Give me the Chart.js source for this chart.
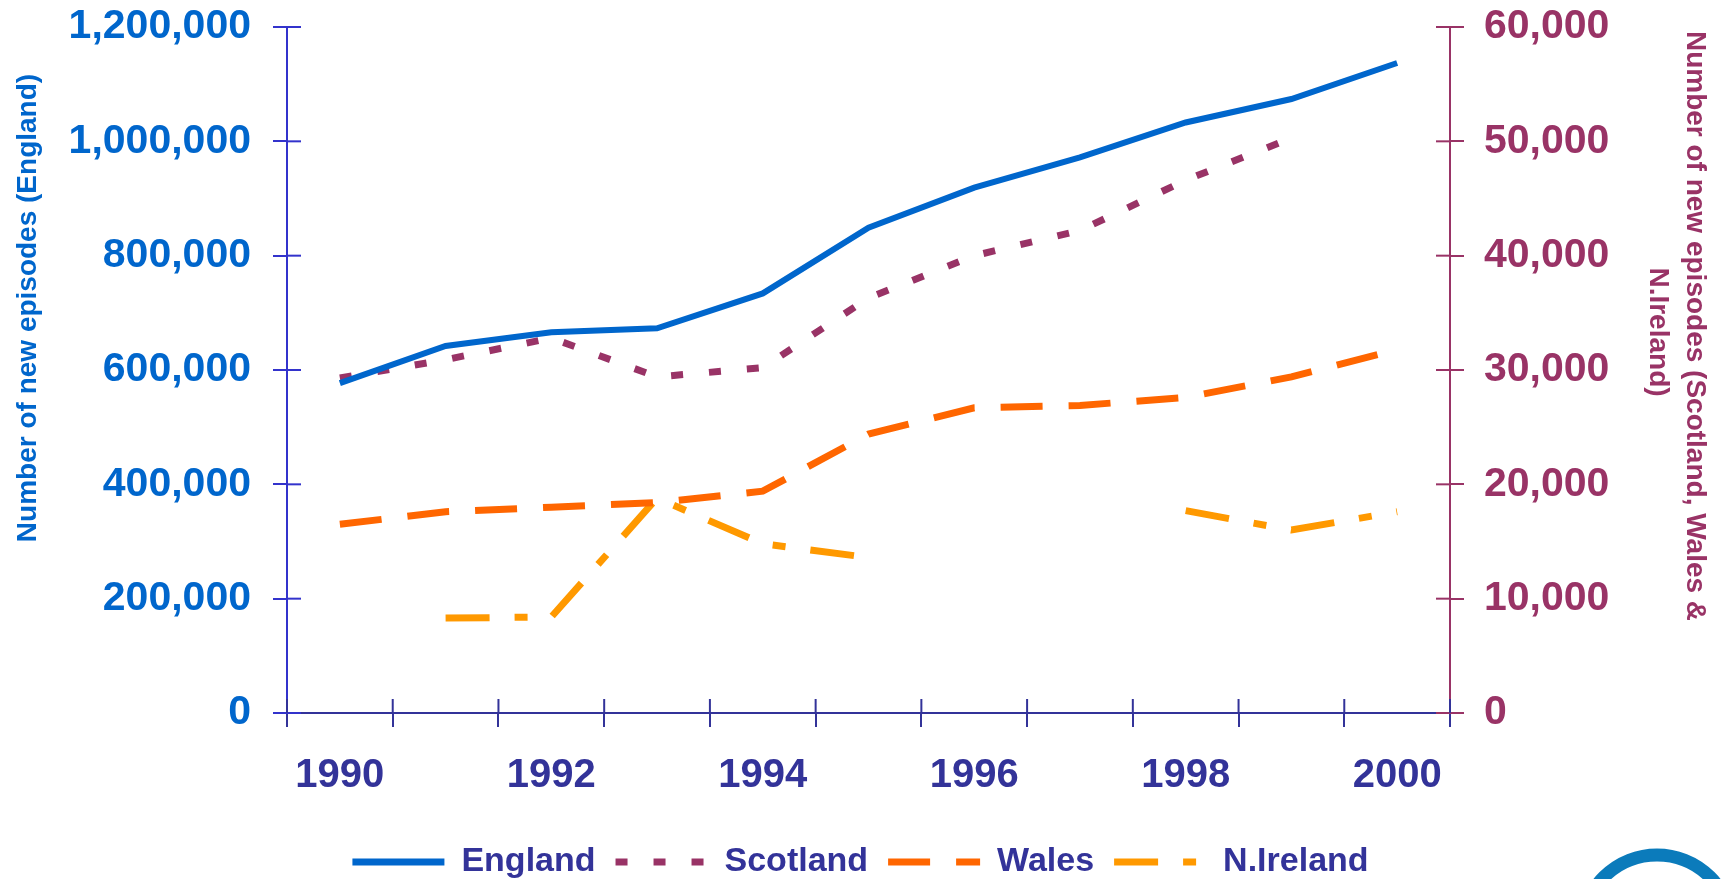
<!DOCTYPE html>
<html>
<head>
<meta charset="utf-8">
<script src="https://cdn.jsdelivr.net/npm/chart.js@4/dist/chart.umd.min.js"></script>
<style>
  html, body { margin: 0; padding: 0; background: #fff; }
  canvas { display: block; }
</style>
</head>
<body>
<canvas id="chart" width="1721" height="879"></canvas>
<script>
const years = ['1990', '1991', '1992', '1993', '1994', '1995', '1996', '1997', '1998', '1999', '2000'];
const england = [577000, 642000, 666000, 673000, 734000, 849000, 919000, 972000, 1033000, 1074000, 1137000];
const scotland = [29300, 30900, 32800, 29400, 30200, 36300, 40000, 42200, 46600, 50300, null];
const wales = [16500, 17600, 18000, 18400, 19400, 24400, 26700, 26900, 27600, 29400, 31800];
const nIreland = [null, 8300, 8400, 18800, 14800, 13600, null, null, 17700, 16000, 17600];

const leftTitle = 'Number of new episodes (England)';
const rightTitle = ['Number of new episodes (Scotland, Wales &', 'N.Ireland)'];

const FONT = "'Liberation Sans', Arial, sans-serif";
const NAVY = '#333399';
const BLUE = '#0066CC';
const MAROON = '#993366';

// tick marks that cross the axis (chart.js only draws the outer half)
const innerTicks = {
  id: 'innerTicks',
  beforeDatasetsDraw(chart) {
    const ctx = chart.ctx;
    const area = chart.chartArea;
    const len = 14;
    ctx.save();
    ctx.lineWidth = 2;

    const yl = chart.scales.y;
    ctx.strokeStyle = '#3333CC';
    yl.ticks.forEach(t => {
      const y = yl.getPixelForValue(t.value);
      ctx.beginPath(); ctx.moveTo(area.left, y); ctx.lineTo(area.left + len, y); ctx.stroke();
    });

    const yr = chart.scales.y2;
    ctx.strokeStyle = MAROON;
    yr.ticks.forEach(t => {
      const y = yr.getPixelForValue(t.value);
      ctx.beginPath(); ctx.moveTo(area.right - len, y); ctx.lineTo(area.right, y); ctx.stroke();
    });

    const xs = chart.scales.x;
    const step = xs.getPixelForValue(1) - xs.getPixelForValue(0);
    ctx.strokeStyle = NAVY;
    for (let i = 0; i <= years.length; i++) {
      const x = xs.getPixelForValue(i) - step / 2;
      ctx.beginPath(); ctx.moveTo(x, area.bottom - len); ctx.lineTo(x, area.bottom); ctx.stroke();
    }
    ctx.restore();
  }
};

const axisTitles = {
  id: 'axisTitles',
  afterDraw(chart) {
    const ctx = chart.ctx;
    ctx.save();
    ctx.font = 'bold 28px ' + FONT;
    ctx.textAlign = 'center';
    ctx.textBaseline = 'middle';

    ctx.fillStyle = BLUE;
    ctx.save();
    ctx.translate(28, 308);
    ctx.rotate(-Math.PI / 2);
    ctx.fillText(leftTitle, 0, 0);
    ctx.restore();

    ctx.fillStyle = MAROON;
    ctx.save();
    ctx.translate(1695, 326);
    ctx.rotate(Math.PI / 2);
    ctx.fillText(rightTitle[0], 0, 0);
    ctx.restore();
    ctx.save();
    ctx.translate(1658, 332);
    ctx.rotate(Math.PI / 2);
    ctx.fillText(rightTitle[1], 0, 0);
    ctx.restore();

    // logo ring cut off at the bottom right
    ctx.strokeStyle = '#0b7bbb';
    ctx.lineWidth = 13;
    ctx.beginPath();
    ctx.arc(1657, 930, 75, 0, Math.PI * 2);
    ctx.stroke();
    ctx.restore();
  }
};

const noOverhang = s => { s.paddingTop = 0; s.paddingBottom = 0; };

new Chart(document.getElementById('chart'), {
  type: 'line',
  data: {
    labels: years,
    datasets: [
      { label: 'England', data: england, yAxisID: 'y', borderColor: BLUE, borderWidth: 6 },
      { label: 'Scotland', data: scotland, yAxisID: 'y2', borderColor: MAROON, borderWidth: 7, borderDash: [12, 26] },
      { label: 'Wales', data: wales, yAxisID: 'y2', borderColor: '#FF6600', borderWidth: 7, borderDash: [42, 26] },
      { label: 'N.Ireland', data: nIreland, yAxisID: 'y2', borderColor: '#FF9900', borderWidth: 7, borderDash: [44, 25, 13, 25] }
    ]
  },
  options: {
    responsive: false,
    animation: false,
    layout: { padding: { top: 27, left: 0, right: 0, bottom: 0 } },
    elements: {
      point: { radius: 0, hoverRadius: 0 },
      line: { tension: 0, borderCapStyle: 'butt', fill: false }
    },
    scales: {
      x: {
        offset: true,
        grid: { drawOnChartArea: false, offset: true, tickLength: 14, color: NAVY, lineWidth: 2 },
        border: { color: NAVY, width: 2 },
        ticks: {
          autoSkip: false,
          maxRotation: 0,
          padding: 25,
          color: NAVY,
          font: { family: FONT, size: 40, weight: 'bold' },
          callback: (v, i) => (i % 2 === 0 ? years[i] : '')
        },
        afterFit: s => { s.height = 112; }
      },
      y: {
        position: 'left',
        min: 0,
        max: 1200000,
        grid: { drawOnChartArea: false, tickLength: 14, color: '#3333CC', lineWidth: 2 },
        border: { color: '#3333CC', width: 2 },
        ticks: {
          stepSize: 200000,
          padding: 22,
          color: BLUE,
          font: { family: FONT, size: 41, weight: 'bold' },
          callback: v => v.toLocaleString('en-US')
        },
        afterFit: s => { s.width = 287; noOverhang(s); }
      },
      y2: {
        position: 'right',
        min: 0,
        max: 60000,
        grid: { drawOnChartArea: false, tickLength: 14, color: MAROON, lineWidth: 2 },
        border: { color: MAROON, width: 2 },
        ticks: {
          stepSize: 10000,
          padding: 20,
          color: MAROON,
          font: { family: FONT, size: 41, weight: 'bold' },
          callback: v => v.toLocaleString('en-US')
        },
        afterFit: s => { s.width = 271; noOverhang(s); }
      }
    },
    plugins: {
      legend: {
        position: 'bottom',
        maxHeight: 54,
        labels: {
          usePointStyle: true,
          pointStyleWidth: 92,
          padding: 20,
          color: NAVY,
          font: { family: FONT, size: 34, weight: 'bold' },
          generateLabels: chart => chart.data.datasets.map((ds, i) => ({
            text: ds.label,
            datasetIndex: i,
            hidden: false,
            pointStyle: 'line',
            strokeStyle: ds.borderColor,
            fillStyle: ds.borderColor,
            fontColor: NAVY,
            lineWidth: 7,
            lineCap: 'butt',
            lineDash: ds.borderDash || []
          }))
        }
      },
      title: { display: false },
      tooltip: { enabled: false }
    }
  },
  plugins: [innerTicks, axisTitles]
});
</script>
</body>
</html>
